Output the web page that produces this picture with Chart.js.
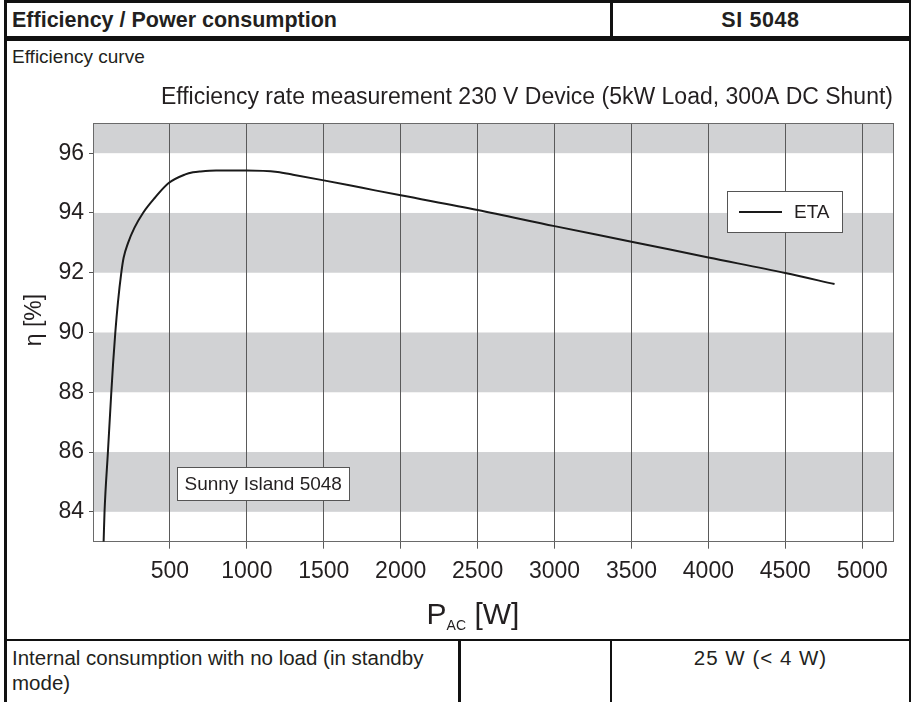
<!DOCTYPE html>
<html>
<head>
<meta charset="utf-8">
<script src="https://cdn.jsdelivr.net/npm/chart.js@4.4.1/dist/chart.umd.min.js"></script>
<style>
  html, body { margin: 0; padding: 0; background: #fff; }
  body { width: 913px; height: 702px; position: relative; overflow: hidden;
         font-family: "Liberation Sans", Arial, sans-serif; color: #231f20; }
  .rule { position: absolute; background: #111; }
  .txt { position: absolute; white-space: nowrap; line-height: 1; }
  #chartBox { position: absolute; left: 0; top: 66px; width: 913px; height: 572px; }
</style>
</head>
<body>
  <!-- table frame -->
  <div class="rule" style="left:4px;top:0;width:907px;height:3px"></div>
  <div class="rule" style="left:4px;top:0;width:2.5px;height:702px"></div>
  <div class="rule" style="left:908.5px;top:0;width:2.5px;height:702px"></div>
  <div class="rule" style="left:610px;top:0;width:2.5px;height:38px"></div>
  <div class="rule" style="left:4px;top:36px;width:907px;height:4.5px"></div>
  <div class="rule" style="left:4px;top:638.5px;width:907px;height:2.5px"></div>
  <div class="rule" style="left:458px;top:640px;width:2.5px;height:62px"></div>
  <div class="rule" style="left:609.5px;top:640px;width:2.5px;height:62px"></div>

  <!-- table text -->
  <div class="txt" style="left:12px;top:10px;font-size:21.5px;font-weight:bold">Efficiency / Power consumption</div>
  <div class="txt" style="left:612px;width:297px;text-align:center;top:10px;font-size:21.5px;font-weight:bold;letter-spacing:0.6px">SI 5048</div>
  <div class="txt" style="left:12px;top:47px;font-size:19px">Efficiency curve</div>
  <div class="txt" style="left:12px;top:648px;font-size:20.5px">Internal consumption with no load (in standby</div>
  <div class="txt" style="left:12px;top:673px;font-size:20.5px">mode)</div>
  <div class="txt" style="left:612px;width:297px;text-align:center;top:648px;font-size:20.5px;letter-spacing:1px">25 W (&lt; 4 W)</div>

  <div id="chartBox"><canvas id="eff" width="913" height="572"></canvas></div>

<script>
// Measured efficiency of the 230 V device versus AC output power
const powerW = [69, 75, 97, 119, 131, 145, 162, 184, 199, 228, 269, 325, 401, 492,
                600, 650, 700, 800, 1000, 1200, 1300, 1500, 1750, 2000, 2500, 3000,
                3500, 4000, 4500, 4820];
const etaPct = [83.0, 84.0, 86.0, 88.0, 89.0, 90.0, 91.0, 92.0, 92.5, 93.0, 93.5, 94.0, 94.5, 95.0,
                95.29, 95.36, 95.39, 95.42, 95.42, 95.37, 95.28, 95.09, 94.84, 94.59, 94.10, 93.56,
                93.04, 92.51, 91.99, 91.62];
const seriesLabel = 'ETA';
const xTickValues = [500, 1000, 1500, 2000, 2500, 3000, 3500, 4000, 4500, 5000];
const yTickValues = [84, 86, 88, 90, 92, 94, 96];
const shadedBands = [[84, 86], [88, 90], [92, 94], [96, 97]];
const chartTitle = 'Efficiency rate measurement 230 V Device (5kW Load, 300A DC Shunt)';
const yAxisTitle = 'η [%]';
const deviceNote = 'Sunny Island 5048';

const FONT = '"Liberation Sans", Arial, sans-serif';
const INK = '#231f20';
Chart.defaults.font.family = FONT;
Chart.defaults.color = INK;

// grey horizontal bands behind the grid
const bandPlugin = {
  id: 'bands',
  beforeDraw(chart) {
    const { ctx, chartArea: a, scales: { y } } = chart;
    ctx.save();
    ctx.fillStyle = '#d1d2d4';
    shadedBands.forEach(([lo, hi]) => {
      const top = y.getPixelForValue(hi);
      const bot = y.getPixelForValue(lo);
      ctx.fillRect(a.left, top, a.right - a.left, bot - top);
    });
    ctx.restore();
  }
};

// thin frame around the plot area
const framePlugin = {
  id: 'frame',
  beforeDatasetsDraw(chart) {
    const { ctx, chartArea: a } = chart;
    ctx.save();
    ctx.strokeStyle = '#6a6a6a';
    ctx.lineWidth = 1;
    ctx.strokeRect(Math.floor(a.left) + 0.5, Math.floor(a.top) + 0.5,
                   Math.round(a.right - a.left), Math.round(a.bottom - a.top));
    ctx.restore();
  }
};

// boxed legend entry and device note inside the plot
const boxesPlugin = {
  id: 'boxes',
  afterDatasetsDraw(chart) {
    const { ctx, chartArea: a, scales: { x, y } } = chart;
    ctx.save();
    ctx.lineWidth = 1;
    ctx.textBaseline = 'middle';

    // legend
    const ds = chart.data.datasets[0];
    ctx.font = '19px ' + FONT;
    const tw = ctx.measureText(ds.label).width;
    const lw = 12 + 43 + 12 + tw + 12;
    const lh = 41;
    const lr = Math.round(a.right - 51);
    const ll = lr - Math.round(lw);
    const lt = Math.round(a.top + 68);
    ctx.fillStyle = '#fff';
    ctx.fillRect(ll, lt, lr - ll, lh);
    ctx.strokeStyle = '#555';
    ctx.strokeRect(ll + 0.5, lt + 0.5, lr - ll, lh);
    ctx.strokeStyle = ds.borderColor;
    ctx.lineWidth = 2;
    ctx.beginPath();
    ctx.moveTo(ll + 12, lt + lh / 2 + 0.5);
    ctx.lineTo(ll + 55, lt + lh / 2 + 0.5);
    ctx.stroke();
    ctx.fillStyle = INK;
    ctx.fillText(ds.label, ll + 67, lt + lh / 2 + 1);

    // device note, anchored in data space
    ctx.lineWidth = 1;
    ctx.font = '19px ' + FONT;
    const nw = ctx.measureText(deviceNote).width + 15;
    const nh = 33;
    const nl = Math.round(x.getPixelForValue(545));
    const nt = Math.round(y.getPixelForValue(85.49));
    ctx.fillStyle = '#fff';
    ctx.fillRect(nl, nt, nw, nh);
    ctx.strokeStyle = '#555';
    ctx.strokeRect(nl + 0.5, nt + 0.5, Math.round(nw), nh);
    ctx.fillStyle = INK;
    ctx.fillText(deviceNote, nl + 7.5, nt + nh / 2 + 1);
    ctx.restore();
  }
};

// axis titles: rotated eta label and P_AC [W] with subscript
const axisTitlePlugin = {
  id: 'axisTitles',
  afterDraw(chart) {
    const { ctx } = chart;
    ctx.save();
    ctx.fillStyle = INK;

    ctx.font = '23px ' + FONT;
    ctx.textAlign = 'center';
    ctx.textBaseline = 'middle';
    ctx.translate(35, 254);
    ctx.rotate(-Math.PI / 2);
    ctx.fillText(yAxisTitle, 0, 0);
    ctx.setTransform(1, 0, 0, 1, 0, 0);

    const big = '30px ' + FONT, small = '14px ' + FONT;
    const parts = [['P', big, 0], ['AC', small, 6], [' [W]', big, 0]];
    ctx.textAlign = 'left';
    ctx.textBaseline = 'alphabetic';
    let total = 0;
    parts.forEach(([t, f]) => { ctx.font = f; total += ctx.measureText(t).width; });
    let cx = 473 - total / 2;
    const base = 558;
    parts.forEach(([t, f, dy]) => {
      ctx.font = f;
      ctx.fillText(t, cx, base + dy);
      cx += ctx.measureText(t).width;
    });
    ctx.restore();
  }
};

new Chart(document.getElementById('eff'), {
  type: 'scatter',
  data: {
    datasets: [{
      label: seriesLabel,
      data: powerW.map((w, i) => ({ x: w, y: etaPct[i] })),
      showLine: true,
      borderColor: '#1a1a1a',
      borderWidth: 2,
      pointRadius: 0,
      cubicInterpolationMode: 'monotone',
      fill: false
    }]
  },
  options: {
    responsive: false,
    animation: false,
    devicePixelRatio: 1,
    layout: { padding: { left: 0, right: 20, top: 0, bottom: 52.3 } },
    plugins: {
      legend: { display: false },
      tooltip: { enabled: false },
      title: {
        display: true,
        text: chartTitle,
        align: 'end',
        color: INK,
        font: { size: 23, weight: 'normal' },
        padding: { top: 18.2, bottom: 11.5 }
      }
    },
    scales: {
      x: {
        type: 'linear',
        min: 0,
        max: 5200,
        afterBuildTicks: (s) => { s.ticks = xTickValues.map(v => ({ value: v })); },
        afterFit: (s) => { s.height = 44; },
        grid: { color: '#5a5a5a', lineWidth: 1, drawTicks: true, tickLength: 7 },
        border: { display: true, color: '#6a6a6a', width: 1 },
        ticks: { font: { size: 23 }, color: INK, padding: 9, maxRotation: 0, autoSkip: false,
                 callback: (v) => String(v) }
      },
      y: {
        min: 83,
        max: 97,
        afterBuildTicks: (s) => { s.ticks = yTickValues.map(v => ({ value: v })); },
        afterFit: (s) => { s.width = 93; },
        grid: { drawOnChartArea: false, drawTicks: true, tickLength: 4, color: '#555' },
        border: { display: true, color: '#6a6a6a', width: 1 },
        ticks: { font: { size: 23 }, color: INK, padding: 5, autoSkip: false,
                 callback: (v) => String(v) },
        title: { display: false }
      }
    }
  },
  plugins: [bandPlugin, framePlugin, boxesPlugin, axisTitlePlugin]
});
</script>
</body>
</html>
